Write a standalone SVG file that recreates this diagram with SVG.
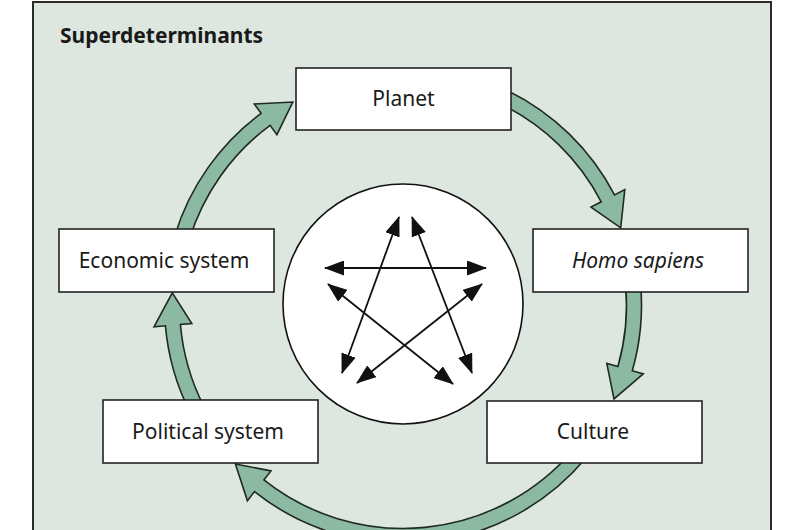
<svg xmlns="http://www.w3.org/2000/svg" width="800" height="530" viewBox="0 0 800 530">
<style>
.box{fill:#fff;stroke:#222;stroke-width:1.6}
.lbl{font-family:"Noto Sans","Open Sans",sans-serif;font-size:21px;fill:#1a1a1a;text-anchor:middle}
.flow{fill:#8cb9a1;stroke:#1e2a23;stroke-width:1.6;stroke-linejoin:miter}
.star{stroke:#111;stroke-width:1.8;fill:none;marker-start:url(#ah);marker-end:url(#ah)}
</style>
<defs>
<marker id="ah" markerUnits="userSpaceOnUse" viewBox="0 0 20 15" refX="19" refY="7.5" markerWidth="20" markerHeight="15" orient="auto-start-reverse">
<path d="M0,0 L20,7.5 L0,15 Z" fill="#111"/>
</marker>
</defs>
<rect x="0" y="0" width="800" height="530" fill="#fff"/>
<rect x="33" y="2" width="738" height="540" fill="#dde7e0" stroke="#2a2a2a" stroke-width="2"/>
<text x="60" y="43" style="font-family:'Noto Sans','Open Sans',sans-serif;font-size:21px;font-weight:bold;fill:#1a1a1a">Superdeterminants</text>

<g id="connectors">
<path class="flow" d="M507.5,90.6 A238.5,238.5 0 0 1 614.5,194.9 L624.8,189.6 L620.7,227.9 L591.0,207.1 L601.2,201.8 A223.5,223.5 0 0 0 501,104.1 Z"/>
<path class="flow" d="M640.6,284.2 A238.5,238.5 0 0 1 632.3,370.7 L643.3,373.9 L614.0,398.9 L606.8,363.4 L617.9,366.6 A223.5,223.5 0 0 0 625.6,285.5 Z"/>
<path class="flow" d="M585.7,458.3 A238.5,238.5 0 0 1 254.5,491.6 L247.4,500.7 L235.4,464.0 L271.0,470.9 L263.9,479.9 A223.5,223.5 0 0 0 574.2,448.7 Z"/>
<path class="flow" d="M190.5,413.3 A238.5,238.5 0 0 1 165.4,325.8 L154.0,326.8 L172.3,292.9 L191.8,323.5 L180.4,324.5 A223.5,223.5 0 0 0 203.9,406.5 Z"/>
<path class="flow" d="M174.9,235.3 A238.5,238.5 0 0 1 261.1,113.3 L254.3,104.0 L292.8,102.0 L276.9,134.6 L270.1,125.3 A223.5,223.5 0 0 0 189.3,239.6 Z"/>
</g>

<g id="center">
<circle cx="403" cy="304" r="120" fill="#fff" stroke="#111" stroke-width="1.6"/>
<line class="star" x1="325" y1="268" x2="486" y2="268"/>
<line class="star" x1="399" y1="217" x2="342" y2="373"/>
<line class="star" x1="412" y1="217" x2="472" y2="373"/>
<line class="star" x1="328" y1="284" x2="453" y2="384"/>
<line class="star" x1="482" y1="284" x2="357" y2="383"/>
</g>

<g id="planet"><rect class="box" x="296" y="68" width="215" height="62"/><text class="lbl" x="403.5" y="106">Planet</text></g>
<g id="homo-sapiens"><rect class="box" x="533" y="229" width="215" height="63"/><text class="lbl" x="638" y="268" font-style="italic">Homo sapiens</text></g>
<g id="culture"><rect class="box" x="487" y="401" width="215" height="62"/><text class="lbl" x="593" y="439">Culture</text></g>
<g id="political-system"><rect class="box" x="103" y="400" width="215" height="63"/><text class="lbl" x="208" y="439">Political system</text></g>
<g id="economic-system"><rect class="box" x="59" y="229" width="215" height="63"/><text class="lbl" x="164" y="268">Economic system</text></g>
</svg>
